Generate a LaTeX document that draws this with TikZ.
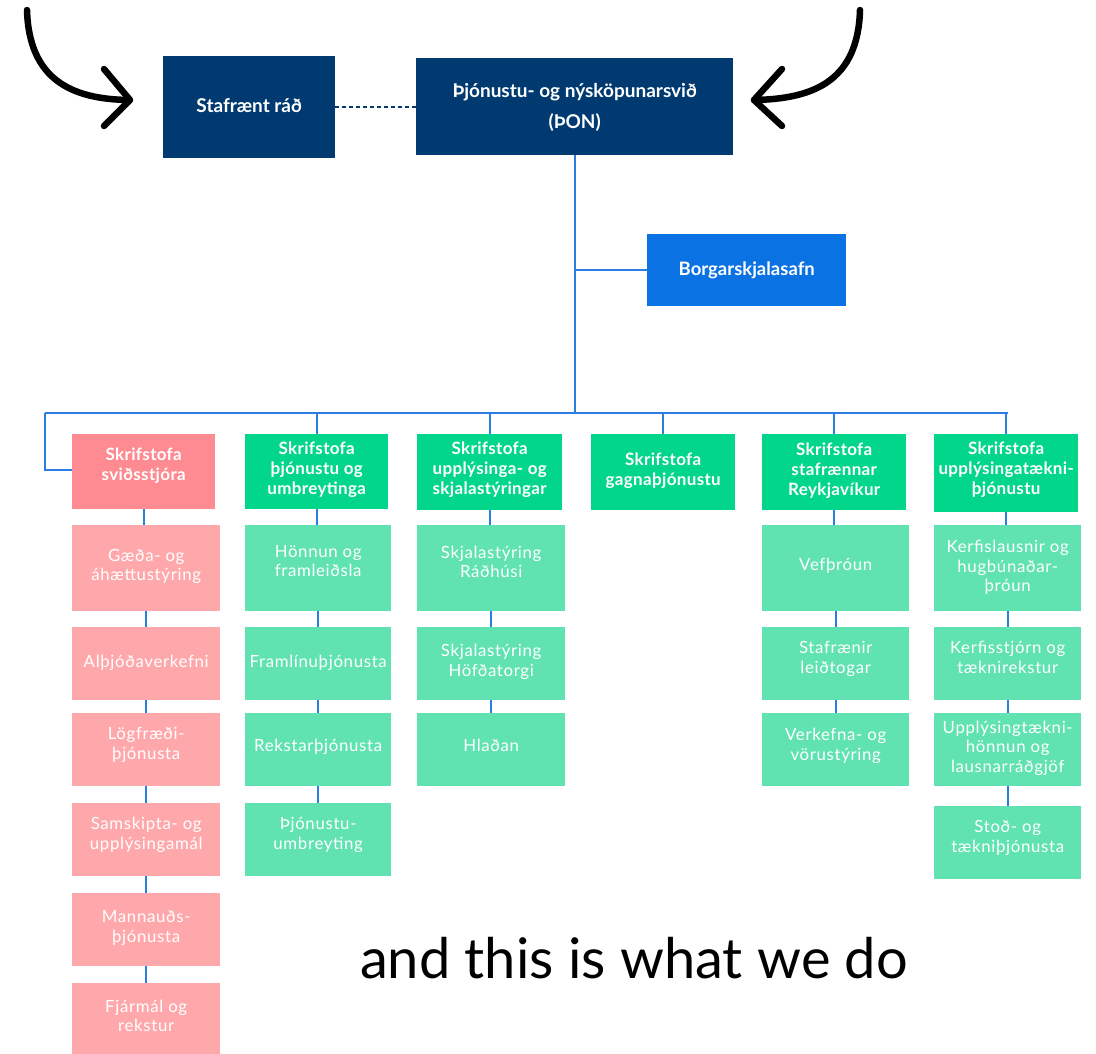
\documentclass[tikz,border=0pt]{standalone}
\usepackage{fontspec}
\setmainfont{Lato}
\newfontfamily\subfont[LetterSpace=4]{Lato}
\newfontfamily\headfont[LetterSpace=2]{Lato}
\usetikzlibrary{calc}
\definecolor{navy}{HTML}{013A70}
\definecolor{linkblue}{HTML}{2A7DE1}
\definecolor{archblue}{HTML}{0B72E3}
\definecolor{hgreen}{HTML}{02D68A}
\definecolor{sgreen}{HTML}{60E3B0}
\definecolor{hpink}{HTML}{FF8B92}
\definecolor{spink}{HTML}{FFA8AC}
\newcommand\tx[2][2pt]{\raisebox{#1}[\height][\depth]{\begin{tabular}{@{}c@{}}#2\end{tabular}}}
\tikzset{
  box/.style={anchor=north west, inner sep=0pt, text=white, minimum width=#1},
  topbox/.style={box=#1, fill=navy, font=\fontsize{19}{31}\selectfont\bfseries},
  archbox/.style={box=#1, fill=archblue, font=\fontsize{18.5}{24}\selectfont\bfseries},
  ghead/.style={box=#1, fill=hgreen, font=\headfont\fontsize{17}{20}\selectfont\bfseries},
  phead/.style={box=#1, fill=hpink, font=\headfont\fontsize{17}{20}\selectfont\bfseries},
  gsub/.style={box=#1, fill=sgreen, font=\subfont\fontsize{16.8}{19.5}\selectfont},
  psub/.style={box=#1, fill=spink, font=\subfont\fontsize{16.8}{19.5}\selectfont},
  link/.style={draw=linkblue, line width=2.2pt},
  bigarrow/.style={draw=black, line width=6.5pt, line cap=round, line join=round},
}
\begin{document}
\begin{tikzpicture}[x=1pt,y=-1pt]
\useasboundingbox (0,0) rectangle (1096,1054);
% top
\node[topbox=172pt, minimum height=102pt] (sr) at (163,56) {\tx[1pt]{Stafrænt ráð}};
\node[topbox=317pt, minimum height=97pt] (pon) at (416,58) {\tx[0pt]{Þjónustu- og nýsköpunarsvið\\(ÞON)}};
\node[archbox=199pt, minimum height=72pt] (borg) at (647,234) {\tx[0pt]{Borgarskjalasafn}};
\draw[navy, line width=2pt, dash pattern=on 4pt off 3pt] (sr.east) -- (sr.east -| pon.west);
% column 1
\node[phead=143pt, minimum height=75pt] (h1) at (72,434) {\tx[5pt]{Skrifstofa\\sviðsstjóra}};
\node[psub=148pt, minimum height=86pt] (a1) at (72,525) {\tx[1pt]{Gæða- og\\áhættustýring}};
\node[psub=148pt, minimum height=73pt] (a2) at (72,627) {\tx[0pt]{Alþjóðaverkefni}};
\node[psub=148pt, minimum height=73pt] (a3) at (72,713) {\tx[4pt]{Lögfræði-\\þjónusta}};
\node[psub=148pt, minimum height=73pt] (a4) at (72,803) {\tx[4pt]{Samskipta- og\\upplýsingamál}};
\node[psub=148pt, minimum height=73pt] (a5) at (72,893) {\tx[1pt]{Mannauðs-\\þjónusta}};
\node[psub=148pt, minimum height=80pt] (a6) at (72,983) {\tx[5pt]{Fjármál og\\rekstur}};
% column 2
\node[ghead=143pt, minimum height=75pt] (h2) at (245,434) {\tx[1pt]{Skrifstofa\\þjónustu og\\umbreytinga}};
\node[gsub=146pt, minimum height=86pt] (b1) at (245,525) {\tx[5pt]{Hönnun og\\framleiðsla}};
\node[gsub=146pt, minimum height=73pt] (b2) at (245,627) {\tx[0pt]{Framlínuþjónusta}};
\node[gsub=146pt, minimum height=73pt] (b3) at (245,713) {\tx[2pt]{Rekstarþjónusta}};
\node[gsub=146pt, minimum height=73pt] (b4) at (245,803) {\tx[4pt]{Þjónustu-\\umbreyting}};
% column 3
\node[ghead=145pt, minimum height=76pt] (h3) at (417,434) {\tx[2pt]{Skrifstofa\\upplýsinga- og\\skjalastýringar}};
\node[gsub=148pt, minimum height=86pt] (c1) at (417,525) {\tx[4pt]{Skjalastýring\\Ráðhúsi}};
\node[gsub=148pt, minimum height=73pt] (c2) at (417,627) {\tx[1pt]{Skjalastýring\\Höfðatorgi}};
\node[gsub=148pt, minimum height=73pt] (c3) at (417,713) {\tx[2pt]{Hlaðan}};
% column 4
\node[ghead=144pt, minimum height=76pt] (h4) at (591,434) {\tx[1pt]{Skrifstofa\\gagnaþjónustu}};
% column 5
\node[ghead=144pt, minimum height=76pt] (h5) at (762,434) {\tx[1pt]{Skrifstofa\\stafrænnar\\Reykjavíkur}};
\node[gsub=147pt, minimum height=86pt] (e1) at (762,525) {\tx[2pt]{Vefþróun}};
\node[gsub=147pt, minimum height=73pt] (e2) at (762,627) {\tx[4pt]{Stafrænir\\leiðtogar}};
\node[gsub=147pt, minimum height=73pt] (e3) at (762,713) {\tx[3pt]{Verkefna- og\\vörustýring}};
% column 6
\node[ghead=144pt, minimum height=78pt] (h6) at (934,434) {\tx[3pt]{Skrifstofa\\upplýsingatækni-\\þjónustu}};
\node[gsub=147pt, minimum height=86pt] (f1) at (934,525) {\tx[0pt]{Kerfislausnir og\\hugbúnaðar-\\þróun}};
\node[gsub=147pt, minimum height=73pt] (f2) at (934,627) {\tx[4pt]{Kerfisstjórn og\\tæknirekstur}};
\node[gsub=147pt, minimum height=73pt] (f3) at (934,713) {\tx[1pt]{Upplýsingtækni-\\hönnun og\\lausnarráðgjöf}};
\node[gsub=147pt, minimum height=73pt] (f4) at (934,806) {\tx[4pt]{Stoð- og\\tækniþjónusta}};
% connectors
\coordinate (busL) at (45,413);
\coordinate (busR) at (1008,413);
\draw[link] (pon.south) -- (pon.south |- busL);
\draw[link] (pon.south |- borg.west) -- (borg.west);
\draw[link] (busL) -- (busR);
\draw[link] (busL) |- ([yshift=2pt]h1.west);
\foreach \h in {h2,h3,h4,h5,h6} \draw[link] (\h.north |- busL) -- (\h.north);
\foreach \u/\v in {h1/a1,a1/a2,a2/a3,a3/a4,a4/a5,a5/a6,h2/b1,b1/b2,b2/b3,b3/b4,h3/c1,c1/c2,c2/c3,h5/e1,e1/e2,e2/e3,h6/f1,f1/f2,f2/f3,f3/f4}
  \draw[link] (\u.south) -- (\u.south |- \v.north);
% hand-drawn arrows
\coordinate (la0) at (27,10);
\coordinate (ra0) at (860,10);
\coordinate (la1) at (128,100);
\coordinate (ra1) at (754,100);
\draw[bigarrow] (la0) .. controls (29,80) and (72,99) .. (la1);
\draw[bigarrow] (104,69) -- (130,100) -- (104,126);
\draw[bigarrow] (ra0) .. controls (858,80) and (815,99) .. (ra1);
\draw[bigarrow] (782,69) -- (754,100) -- (782,126);
% caption
\node[font=\fontsize{56}{60}\selectfont, text=black, inner sep=0pt] (cap) at (634,958) {and this is what we do};
\end{tikzpicture}
\end{document}
